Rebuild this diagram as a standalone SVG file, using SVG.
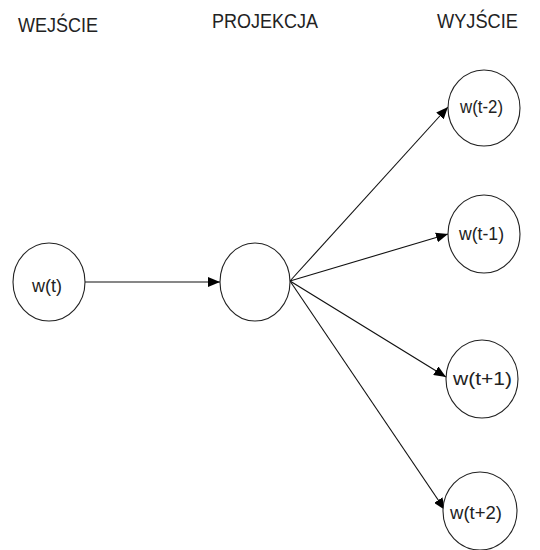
<svg xmlns="http://www.w3.org/2000/svg" width="540" height="550" viewBox="0 0 540 550">
<style>
.n{fill:#fff;stroke:#222;stroke-width:1.1}
.t{font-family:"Liberation Sans",Arial,sans-serif;fill:#222}
.h{font-size:20px}
.l{font-size:18px}
.c{stroke:#111;stroke-width:1.1;fill:none}
</style>
<defs>
<marker id="a" viewBox="0 0 12 10" refX="12" refY="5" markerWidth="12" markerHeight="10" markerUnits="userSpaceOnUse" orient="auto">
<path d="M0,0 L12,5 L0,10 Z" fill="#000"/>
</marker>
</defs>
<rect width="540" height="550" fill="#fff"/>
<text class="t h" x="18" y="32" textLength="80" lengthAdjust="spacingAndGlyphs">WEJŚCIE</text>
<text class="t h" x="212" y="28" textLength="106" lengthAdjust="spacingAndGlyphs">PROJEKCJA</text>
<text class="t h" x="437" y="28" textLength="81" lengthAdjust="spacingAndGlyphs">WYJŚCIE</text>
<g id="connectors">
<line class="c" x1="85" y1="282" x2="220" y2="282" marker-end="url(#a)"/>
<line class="c" x1="290" y1="281" x2="448" y2="107" marker-end="url(#a)"/>
<line class="c" x1="290" y1="281" x2="448" y2="234" marker-end="url(#a)"/>
<line class="c" x1="290" y1="281" x2="446" y2="377" marker-end="url(#a)"/>
<line class="c" x1="290" y1="281" x2="445" y2="510" marker-end="url(#a)"/>
</g>
<g id="wt">
<ellipse class="n" cx="49" cy="282" rx="36" ry="39"/>
<text class="t l" x="32" y="292" textLength="30" lengthAdjust="spacingAndGlyphs">w(t)</text>
</g>
<g id="proj">
<ellipse class="n" cx="255" cy="282" rx="35" ry="39"/>
</g>
<g id="wtm2">
<ellipse class="n" cx="484" cy="108" rx="36" ry="38"/>
<text class="t l" x="460" y="113" textLength="43" lengthAdjust="spacingAndGlyphs">w(t-2)</text>
</g>
<g id="wtm1">
<ellipse class="n" cx="484" cy="234" rx="36" ry="39"/>
<text class="t l" x="459" y="240" textLength="45" lengthAdjust="spacingAndGlyphs">w(t-1)</text>
</g>
<g id="wtp1">
<ellipse class="n" cx="482" cy="379" rx="36" ry="39"/>
<text class="t l" x="453" y="385" textLength="59" lengthAdjust="spacingAndGlyphs">w(t+1)</text>
</g>
<g id="wtp2">
<ellipse class="n" cx="480" cy="511" rx="37" ry="39"/>
<text class="t l" x="450" y="519" textLength="52" lengthAdjust="spacingAndGlyphs">w(t+2)</text>
</g>
</svg>
